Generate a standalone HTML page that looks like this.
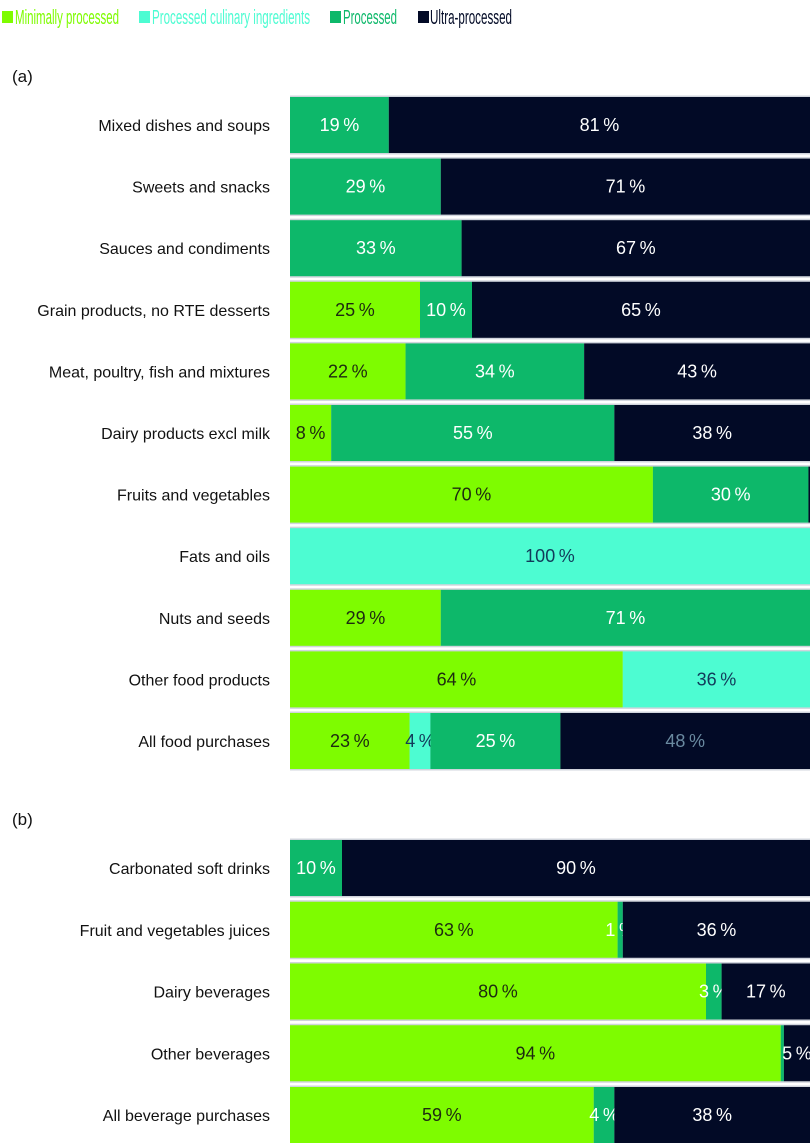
<!DOCTYPE html>
<html><head><meta charset="utf-8"><style>
body{margin:0;background:#fff;font-family:"Liberation Sans",sans-serif;}
svg{display:block}
</style></head><body>
<svg id="chart" width="810" height="1143" xmlns="http://www.w3.org/2000/svg">
<g font-size="20">
<g><rect x="2" y="11" width="11" height="12" fill="#7efc00"/><text x="15" y="24" fill="#7efc00" textLength="104" lengthAdjust="spacingAndGlyphs">Minimally processed</text></g>
<g><rect x="139" y="11" width="11" height="12" fill="#4dfcd2"/><text x="152" y="24" fill="#4dfcd2" textLength="158" lengthAdjust="spacingAndGlyphs">Processed culinary ingredients</text></g>
<g><rect x="330" y="11" width="11" height="12" fill="#0db86a"/><text x="343" y="24" fill="#0db86a" textLength="54" lengthAdjust="spacingAndGlyphs">Processed</text></g>
<g><rect x="418" y="11" width="11" height="12" fill="#020a26"/><text x="430" y="24" fill="#020a26" textLength="82" lengthAdjust="spacingAndGlyphs">Ultra-processed</text></g>
</g>
<text x="12" y="82" font-size="17" fill="#111">(a)</text>
<text x="12" y="825" font-size="17" fill="#111">(b)</text>
<g id="bars"></g>
</svg>
<script>
const foodCategories=["Mixed dishes and soups","Sweets and snacks","Sauces and condiments","Grain products, no RTE desserts","Meat, poultry, fish and mixtures","Dairy products excl milk","Fruits and vegetables","Fats and oils","Nuts and seeds","Other food products","All food purchases"];
const foodMinimal=[0,0,0,25,22,8,70,0,29,64,23];
const foodCulinary=[0,0,0,0,0,0,0,100,0,36,4];
const foodProcessed=[19,29,33,10,34,55,30,0,71,0,25];
const foodUltra=[81,71,67,65,43,38,0.3,0,0,0,48];
const bevCategories=["Carbonated soft drinks","Fruit and vegetables juices","Dairy beverages","Other beverages","All beverage purchases"];
const bevMinimal=[0,63,80,94,59];
const bevCulinary=[0,0,0,0,0];
const bevProcessed=[10,1,3,0.6,4];
const bevUltra=[90,36,17,5,38];

const colors=["#7efc00","#4dfcd2","#0db86a","#020a26"];
const textColors=["#1d2a10","#123a5a","#ffffff","#ffffff"];
const segNames=["minimal","culinary","processed","ultra"];
const X0=290,X1=810,W=X1-X0,BH=56;
const g=document.getElementById('bars');
const NS="http://www.w3.org/2000/svg";
function mk(t,a){const e=document.createElementNS(NS,t);for(const k in a)e.setAttribute(k,a[k]);return e;}
function drawPanel(cats,series,top,pitch,prefix){
  cats.forEach((c,i)=>{
    const y=top+i*pitch;
    const vals=series.map(s=>s[i]);
    const tot=vals.reduce((a,b)=>a+b,0);
    const xs=v=>v/tot*W;
    const row=mk('g',{});
    
    
    g.appendChild(row);
    const lab=mk('text',{x:270,y:y+BH/2+6,'text-anchor':'end','font-size':'16',fill:'#111'});
    
    
    lab.textContent=c;row.appendChild(lab);
    const bg=mk('rect',{x:X0,y:y-1.5,width:W,height:BH+3,fill:'#d0d4dc'});
    
    
    row.appendChild(bg);
    let x=X0;
    vals.forEach((v,k)=>{
      if(v<=0)return;
      const w=xs(v);
      const r=mk('rect',{x:x,y:y,width:w,height:BH,fill:colors[k]});
      
      
      row.appendChild(r);
      if(v>=1){
        let tc=textColors[k];
        if(prefix==='food'&&i===cats.length-1&&k===3)tc="#6a8aa0";
        if(w<20&&k===2)tc="#ffffff";
        const t=mk('text',{x:x+w/2,y:y+BH/2+6,'text-anchor':'middle','font-size':'18',fill:tc});
        
        
        t.textContent=Math.round(v)+'\u2009%';
        row.appendChild(t);
      }
      x+=w;
    });
  });
}
drawPanel(foodCategories,[foodMinimal,foodCulinary,foodProcessed,foodUltra],97,61.6,'food');
drawPanel(bevCategories,[bevMinimal,bevCulinary,bevProcessed,bevUltra],840,61.75,'bev');
</script>
</body></html>
